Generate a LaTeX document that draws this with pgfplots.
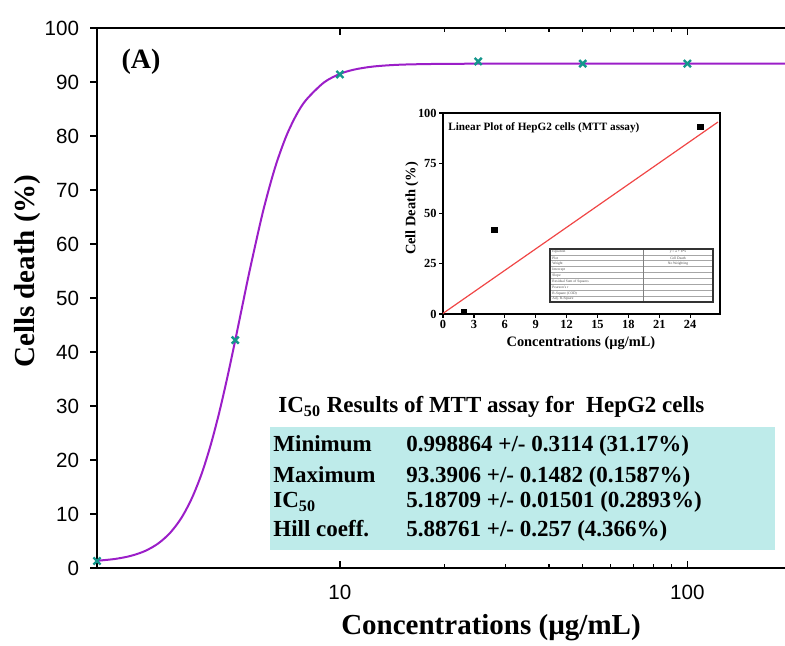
\documentclass[border=0pt]{standalone}
\usepackage{fontspec}
\setmainfont{Liberation Serif}
\newfontfamily\sansf{Liberation Sans}
\usepackage{pgfplots}
\pgfplotsset{compat=1.18}
\definecolor{curvepurple}{RGB}{155,30,200}
\definecolor{markteal}{RGB}{20,150,140}
\definecolor{boxcyan}{RGB}{190,235,234}
\definecolor{fitred}{RGB}{240,70,70}

\begin{document}
\begin{tikzpicture}
% main dose-response plot
\begin{axis}[
  at={(48.5pt,39pt)}, anchor=south west,
  scale only axis, width=344pt, height=270pt,
  xmode=log, xmin=2, xmax=191, ymin=0, ymax=100,
  axis x line*=box, axis y line*=left,
  xtick={10,100}, xticklabels={10,100},
  ytick={0,10,...,100},
  xtick align=inside, ytick align=outside,
  major tick length=3.5pt, minor tick length=2pt,
  every tick/.style={black, line width=0.7pt},
  axis line style={line width=0.75pt},
  tick label style={font=\sansf\fontsize{10.3}{12}\selectfont},
  /pgf/number format/assume math mode=true,
  xticklabel style={yshift=-5pt},
  yticklabel style={xshift=-2pt},
  xlabel={\bfseries\fontsize{14.5}{16}\selectfont Concentrations (µg/mL)},
  ylabel={\bfseries\fontsize{14.5}{16}\selectfont Cells death (\%)},
  every axis x label/.style={at={(axis description cs:0.5727,-0.111)}, anchor=center},
  every axis y label/.style={at={(axis description cs:-0.1017,0.55)}, anchor=center, rotate=90},
  clip=false,
]
\addplot[curvepurple, line width=1pt, smooth] coordinates {
  (2,1.34) (2.25,1.67) (2.5,2.24) (2.75,3.15) (3,4.54) (3.25,6.54)
  (3.5,9.29) (3.75,12.92) (4,17.44) (4.25,22.83) (4.5,28.92) (4.75,35.48)
  (5,42.22) (5.25,48.83) (5.5,55.08) (6,65.86) (6.5,74.04) (7,79.88)
  (7.5,83.93) (8,86.70) (9,89.92) (10,91.49) (11,92.30) (12.5,92.87)
  (15,93.21) (20,93.36) (30,93.386) (50,93.39) (100,93.39) (191,93.39)
};
\addplot[only marks, mark=x, mark size=2.5pt, markteal, line width=1.2pt] coordinates {
  (2,1.3) (5,42.2) (10,91.4) (25,93.8) (50,93.4) (100,93.4)
};
\node[font=\bfseries\fontsize{14}{16}\selectfont] at (axis description cs:0.064,0.937) {(A)};
\end{axis}

% results box
\fill[boxcyan] (135pt,48pt) rectangle (387.5pt,109.5pt);
\node[anchor=base west, inner sep=0pt, font=\bfseries\fontsize{11.5}{13}\selectfont]
  at (139pt,116.5pt) {IC\textsubscript{50} Results of MTT assay for\ \ HepG2 cells};
\begin{scope}[every node/.style={anchor=base west, inner sep=0pt, font=\bfseries\fontsize{11.5}{13}\selectfont}]
\node at (136.5pt,97pt) {Minimum};
\node at (136.5pt,81.5pt) {Maximum};
\node at (136.5pt,69pt) {IC\textsubscript{50}};
\node at (136.5pt,54.5pt) {Hill coeff.};
\node at (203pt,97pt) {0.998864 +/- 0.3114 (31.17\%)};
\node at (203pt,81.5pt) {93.3906 +/- 0.1482 (0.1587\%)};
\node at (203pt,69pt) {5.18709 +/- 0.01501 (0.2893\%)};
\node at (203pt,54.5pt) {5.88761 +/- 0.257 (4.366\%)};
\end{scope}

% inset linear plot
\begin{axis}[
  at={(221.5pt,166pt)}, anchor=south west,
  scale only axis, width=138.5pt, height=100.5pt,
  xmin=0, xmax=26.9, ymin=0, ymax=100,
  xtick={0,3,...,24}, ytick={0,25,50,75,100},
  tick align=outside, xtick pos=bottom, ytick pos=left,
  major tick length=2pt,
  every tick/.style={black, line width=0.6pt},
  axis line style={line width=1pt},
  tick label style={font=\bfseries\fontsize{6.2}{7}\selectfont, inner sep=1pt},
  /pgf/number format/assume math mode=true,
  xlabel={\bfseries\fontsize{7.2}{8}\selectfont Concentrations (µg/mL)},
  ylabel={\bfseries\fontsize{7.2}{8}\selectfont Cell Death (\%)},
  every axis x label/.style={at={(axis description cs:0.498,-0.144)}, anchor=center},
  every axis y label/.style={at={(axis description cs:-0.112,0.525)}, anchor=center, rotate=90},
  clip=false,
]
\addplot[fitred, line width=0.6pt] coordinates {(0,0.3) (26.7,95.5)};
\addplot[only marks, mark=square*, mark size=1.3pt, black] coordinates {(2,1) (5,42) (25,93)};
\node[anchor=west, inner sep=0pt, font=\bfseries\fontsize{5.6}{6}\selectfont]
  at (axis description cs:0.018,0.925) {Linear Plot of HepG2 cells (MTT assay)};
\end{axis}

% fit statistics table inside the inset
\fill[white] (275pt,172pt) rectangle (356.5pt,198.5pt);
\foreach \i in {1,...,8} {
  \draw[gray!70, line width=0.3pt] (275pt,172pt+\i*2.944pt) -- (356.5pt,172pt+\i*2.944pt);
}
\draw[gray, line width=0.4pt] (321.5pt,172pt) -- (321.5pt,198.5pt);
\draw[black!80, line width=0.7pt] (275pt,172pt) rectangle (356.5pt,198.5pt);
\begin{scope}[every node/.style={anchor=west, inner sep=0pt, font=\fontsize{1.8}{2}\selectfont, text=black!70}]
\node at (276pt,197.03pt) {Equation};
\node at (276pt,194.09pt) {Plot};
\node at (276pt,191.14pt) {Weight};
\node at (276pt,188.2pt) {Intercept};
\node at (276pt,185.25pt) {Slope};
\node at (276pt,182.3pt) {Residual Sum of Squares};
\node at (276pt,179.36pt) {Pearson's r};
\node at (276pt,176.42pt) {R-Square (COD)};
\node at (276pt,173.47pt) {Adj. R-Square};
\end{scope}
\begin{scope}[every node/.style={anchor=center, inner sep=0pt, font=\fontsize{1.8}{2}\selectfont, text=black!70}]
\node at (339pt,197.03pt) {y = a + b*x};
\node at (339pt,194.09pt) {Cell Death};
\node at (339pt,191.14pt) {No Weighting};
\end{scope}

\pgfresetboundingbox
\path[use as bounding box] (0,0) rectangle (392.5pt,323pt);
\end{tikzpicture}
\end{document}
